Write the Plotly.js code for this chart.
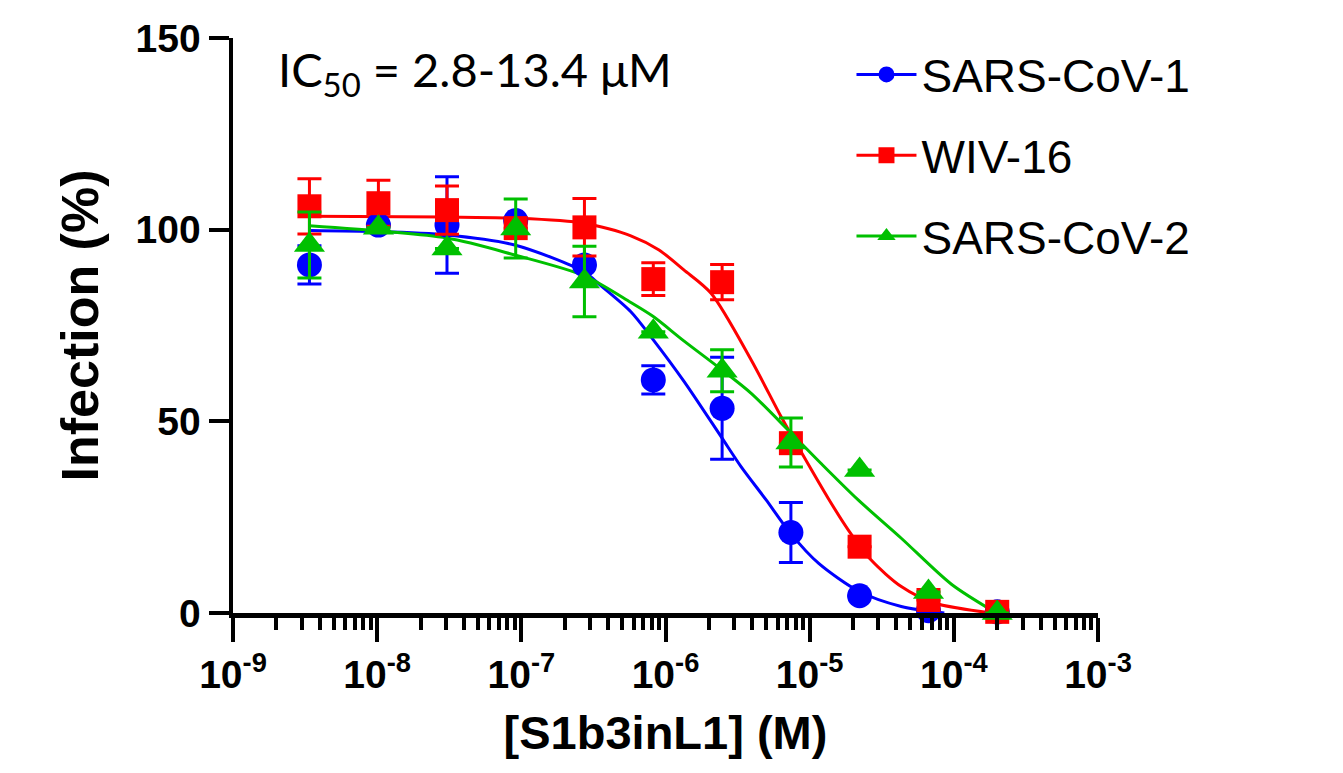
<!DOCTYPE html>
<html>
<head>
<meta charset="utf-8">
<script src="https://cdn.plot.ly/plotly-3.0.1.min.js"></script>
<style>html,body{margin:0;padding:0;background:#fff;}#chart{width:1343px;height:773px;}</style>
</head>
<body>
<div id="chart"></div>
<script>
// Concentrations (M), 3-fold dilution series
const conc = [3.39e-9, 1.02e-8, 3.05e-8, 9.14e-8, 2.74e-7, 8.23e-7, 2.47e-6, 7.41e-6, 2.22e-5, 6.67e-5, 2.0e-4];

// Measured infection (%) and error (SEM)
const cov1Mean = [90.8, 101.2, 101.2, 102.4, 90.8, 60.8, 53.4, 21.0, 4.5, 0.6, 0.3];
const cov1Err  = [5.0, 0, 12.6, 0, 0, 3.7, 13.3, 7.8, 0, 0, 0];
const wivMean  = [106.1, 106.9, 105.1, 100.4, 100.6, 87.1, 86.3, 44.3, 17.3, 3.4, 0.3];
const wivErr   = [7.2, 6.0, 6.3, 0, 7.5, 4.3, 4.6, 0, 0, 0, 0];
const cov2Mean = [96.0, 100.5, 95.1, 100.3, 86.5, 73.4, 63.2, 44.5, 37.3, 5.5, 0.0];
const cov2Err  = [8.6, 0, 0, 7.7, 9.2, 0, 5.5, 6.4, 0, 0, 0];

// Fitted dose-response curves
const cov1FitX = [3.39e-9, 1.02e-8, 3.04e-8, 9.0e-8, 2.72e-7, 3.56e-7, 5.75e-7, 8.18e-7, 1.34e-6, 2.43e-6, 3.34e-6, 4.99e-6, 7.32e-6, 1.15e-5, 2.21e-5, 4.32e-5, 8.59e-5];
const cov1FitY = [99.8, 99.5, 98.6, 96.0, 89.0, 85.4, 78.6, 71.4, 60.5, 46.0, 38.2, 29.5, 20.9, 13.0, 5.6, 1.7, 0.0];
const wivFitX  = [3.39e-9, 3.04e-8, 9.0e-8, 2.72e-7, 5.75e-7, 9.02e-7, 1.34e-6, 2.07e-6, 3.93e-6, 6.34e-6, 8.73e-6, 1.34e-5, 1.85e-5, 2.67e-5, 4.32e-5, 7.32e-5, 1.82e-4];
const wivFitY  = [103.5, 103.3, 103.0, 101.7, 98.4, 94.7, 89.5, 83.4, 66.0, 51.2, 42.0, 30.0, 21.7, 13.8, 6.9, 2.6, 0.0];
const cov2FitX = [3.39e-9, 3.04e-8, 9.0e-8, 2.72e-7, 5.75e-7, 8.18e-7, 1.34e-6, 2.47e-6, 3.93e-6, 7.10e-6, 1.20e-5, 2.17e-5, 4.32e-5, 9.62e-5, 1.97e-4];
const cov2FitY = [101.0, 97.8, 93.4, 88.0, 81.0, 77.4, 71.0, 63.4, 57.3, 47.7, 39.0, 29.5, 19.5, 7.5, 0.0];

const seriesNames = ['SARS-CoV-1', 'WIV-16', 'SARS-CoV-2'];
const seriesColors = ['#0000FF', '#FF0000', '#00C000'];
const seriesSymbols = ['circle', 'square', 'triangle-up'];

const xTickVals = [1e-9, 1e-8, 1e-7, 1e-6, 1e-5, 1e-4, 1e-3];
const xTickText = ['10<sup>-9</sup>', '10<sup>-8</sup>', '10<sup>-7</sup>', '10<sup>-6</sup>', '10<sup>-5</sup>', '10<sup>-4</sup>', '10<sup>-3</sup>'];
const yTickVals = [0, 50, 100, 150];

const means = [cov1Mean, wivMean, cov2Mean];
const errs = [cov1Err, wivErr, cov2Err];
const fitXs = [cov1FitX, wivFitX, cov2FitX];
const fitYs = [cov1FitY, wivFitY, cov2FitY];
const markerSizes = [25, 24, 27];

const traces = [];
// curves first (drawn under markers)
for (let i = 0; i < 3; i++) {
  traces.push({
    type: 'scatter', mode: 'lines', x: fitXs[i], y: fitYs[i],
    line: {color: seriesColors[i], width: 3, shape: 'spline', smoothing: 0.8},
    showlegend: false, hoverinfo: 'skip', cliponaxis: false
  });
}
for (let i = 0; i < 3; i++) {
  traces.push({
    type: 'scatter', mode: 'markers', x: conc, y: means[i],
    marker: {color: seriesColors[i], symbol: seriesSymbols[i], size: markerSizes[i], line: {width: 0}},
    error_y: {type: 'data', array: errs[i], visible: true, color: seriesColors[i], thickness: 3, width: 12},
    showlegend: false, cliponaxis: false, name: seriesNames[i]
  });
}
// legend entries
for (let i = 0; i < 3; i++) {
  traces.push({
    type: 'scatter', mode: 'lines+markers', x: [null], y: [null], name: seriesNames[i],
    line: {color: seriesColors[i], width: 3},
    marker: {color: seriesColors[i], symbol: seriesSymbols[i], size: 16},
    legendgroup: 'g' + i
  });
}

const axisFont = {family: 'Liberation Sans, Arial, sans-serif', size: 39, color: '#000', weight: 'bold'};

const layout = {
  width: 1343, height: 773,
  paper_bgcolor: '#fff', plot_bgcolor: '#fff',
  margin: {l: 233, r: 245, t: 38, b: 160},
  showlegend: true,
  legend: {
    x: 0.715, y: 1.0, xanchor: 'left', yanchor: 'top',
    bgcolor: 'rgba(0,0,0,0)', borderwidth: 0,
    font: {family: 'Liberation Sans, Arial, sans-serif', size: 46, color: '#000'},
    traceorder: 'grouped', tracegroupgap: 18, itemwidth: 60
  },
  xaxis: {
    type: 'log', range: [-9, -3],
    tickmode: 'array', tickvals: xTickVals, ticktext: xTickText,
    ticks: 'outside', ticklen: 24, tickwidth: 4, tickcolor: '#000',
    minor: {dtick: 'D1', ticks: 'outside', ticklen: 12, tickwidth: 4, tickcolor: '#000', showgrid: false},
    showline: true, linewidth: 4.5, linecolor: '#000',
    showgrid: false, zeroline: false,
    tickfont: axisFont,
    title: {text: '[S1b3inL1] (M)', font: {family: 'Liberation Sans, Arial, sans-serif', size: 47, color: '#000', weight: 'bold'}, standoff: 22}
  },
  yaxis: {
    range: [0, 150],
    tickmode: 'array', tickvals: yTickVals,
    ticks: 'outside', ticklen: 20, tickwidth: 4, tickcolor: '#000',
    showline: true, linewidth: 4.5, linecolor: '#000',
    showgrid: false, zeroline: false,
    tickfont: axisFont,
    title: {text: 'Infection (%)', font: {family: 'Liberation Sans, Arial, sans-serif', size: 52, color: '#000', weight: 'bold'}, standoff: 22}
  },
  annotations: [{
    xref: 'paper', yref: 'paper', x: 0.05, y: 0.94, xanchor: 'left', yanchor: 'middle',
    text: 'IC<sub>50</sub> = 2.8-13.4 μM', showarrow: false,
    font: {family: 'Lato, Carlito, sans-serif', size: 47, color: '#000'}
  }]
};

Plotly.newPlot('chart', traces, layout, {displayModeBar: false, staticPlot: true});
</script>
</body>
</html>
